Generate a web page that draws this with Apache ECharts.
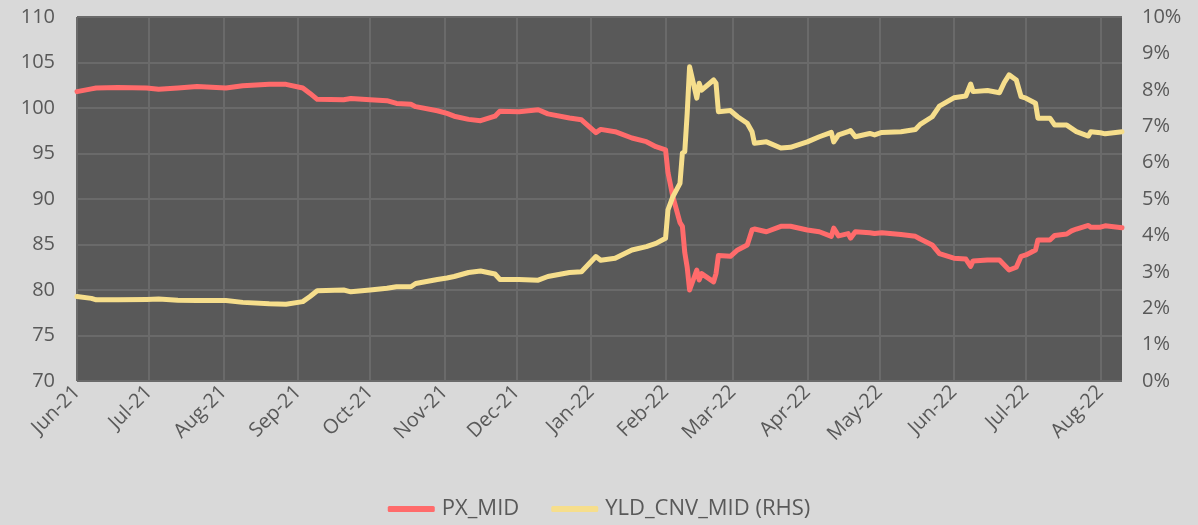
<!DOCTYPE html>
<html>
<head>
<meta charset="utf-8">
<title>PX_MID vs YLD_CNV_MID</title>
<script src="https://cdn.jsdelivr.net/npm/echarts@6/dist/echarts.min.js"></script>
<style>
  html, body { margin: 0; padding: 0; background: #d9d9d9; }
  #chart { width: 1198px; height: 525px; }
</style>
</head>
<body>
<div id="chart"></div>
<script>
// dates of the points
var dates = [
  '2021-06-01', '2021-06-07', '2021-06-09', '2021-06-18', '2021-06-30', '2021-07-05', '2021-07-13', '2021-07-21',
  '2021-08-02', '2021-08-09', '2021-08-20', '2021-08-27', '2021-09-03', '2021-09-06', '2021-09-09', '2021-09-20',
  '2021-09-23', '2021-10-01', '2021-10-08', '2021-10-12', '2021-10-18', '2021-10-20', '2021-10-29', '2021-11-02',
  '2021-11-05', '2021-11-11', '2021-11-16', '2021-11-22', '2021-11-24', '2021-12-02', '2021-12-10', '2021-12-14',
  '2021-12-23', '2021-12-28', '2022-01-03', '2022-01-05', '2022-01-11', '2022-01-18', '2022-01-24', '2022-01-28',
  '2022-02-01', '2022-02-02', '2022-02-04', '2022-02-07', '2022-02-08', '2022-02-09', '2022-02-10', '2022-02-11',
  '2022-02-14', '2022-02-15', '2022-02-16', '2022-02-21', '2022-02-22', '2022-02-23', '2022-02-28', '2022-03-03',
  '2022-03-07', '2022-03-09', '2022-03-10', '2022-03-15', '2022-03-21', '2022-03-25', '2022-04-01', '2022-04-06',
  '2022-04-11', '2022-04-12', '2022-04-14', '2022-04-18', '2022-04-19', '2022-04-21', '2022-04-27', '2022-04-29',
  '2022-05-02', '2022-05-10', '2022-05-16', '2022-05-18', '2022-05-23', '2022-05-26', '2022-06-01', '2022-06-06',
  '2022-06-08', '2022-06-09', '2022-06-15', '2022-06-20', '2022-06-22', '2022-06-24', '2022-06-27', '2022-06-29',
  '2022-07-01', '2022-07-05', '2022-07-06', '2022-07-11', '2022-07-13', '2022-07-18', '2022-07-20', '2022-07-22',
  '2022-07-27', '2022-07-28', '2022-08-01', '2022-08-03', '2022-08-10'
];

// PX_MID (left axis)
var pxMid = [
  101.8, 102.1, 102.2, 102.25, 102.2, 102.05, 102.2, 102.35,
  102.2, 102.45, 102.6, 102.6, 102.2, 101.6, 100.95, 100.9,
  101.05, 100.9, 100.8, 100.5, 100.4, 100.15, 99.7, 99.4,
  99.1, 98.75, 98.6, 99.1, 99.65, 99.6, 99.8, 99.35,
  98.9, 98.7, 97.3, 97.65, 97.4, 96.7, 96.3, 95.75,
  95.4, 92.9, 90.3, 87.4, 87.0, 84.1, 82.5, 80.0,
  82.2, 81.1, 81.8, 80.9, 81.8, 83.8, 83.7, 84.4,
  84.95, 86.6, 86.7, 86.4, 87.0, 87.0, 86.6, 86.4,
  85.9, 86.8, 85.95, 86.2, 85.7, 86.4, 86.3, 86.2,
  86.3, 86.1, 85.9, 85.6, 84.95, 84.0, 83.5, 83.4,
  82.6, 83.2, 83.3, 83.3, 82.75, 82.2, 82.5, 83.7,
  83.85, 84.4, 85.5, 85.5, 86.0, 86.15, 86.5, 86.7,
  87.1, 86.9, 86.9, 87.05, 86.85
];

// YLD_CNV_MID in % (right axis)
var yldCnvMid = [
  2.32, 2.27, 2.23, 2.23, 2.24, 2.25, 2.22, 2.21,
  2.21, 2.16, 2.12, 2.11, 2.18, 2.32, 2.48, 2.50,
  2.45, 2.50, 2.55, 2.59, 2.59, 2.68, 2.79, 2.83,
  2.87, 2.98, 3.02, 2.94, 2.79, 2.79, 2.77, 2.87,
  2.98, 3.0, 3.42, 3.32, 3.37, 3.60, 3.69, 3.78,
  3.92, 4.70, 5.06, 5.43, 6.26, 6.30, 7.35, 8.63,
  7.77, 8.18, 7.99, 8.27, 8.18, 7.40, 7.43, 7.26,
  7.08, 6.85, 6.53, 6.57, 6.40, 6.42, 6.57, 6.71,
  6.83, 6.57, 6.76, 6.85, 6.88, 6.71, 6.80, 6.76,
  6.83, 6.85, 6.91, 7.05, 7.26, 7.55, 7.78, 7.83,
  8.16, 7.95, 7.98, 7.92, 8.20, 8.41, 8.27, 7.81,
  7.77, 7.63, 7.22, 7.22, 7.03, 7.03, 6.94, 6.85,
  6.73, 6.85, 6.82, 6.79, 6.85
];

var monthNames = ['Jan', 'Feb', 'Mar', 'Apr', 'May', 'Jun', 'Jul', 'Aug', 'Sep', 'Oct', 'Nov', 'Dec'];
var textColor = '#595959';
var gridColor = '#6a6a6a';
var font = 'Open Sans';
var DAY = 24 * 3600 * 1000;

function pairs(values) {
  return dates.map(function (d, i) { return [d, values[i]]; });
}

var chart = echarts.init(document.getElementById('chart'));

var option = {
  backgroundColor: '#d9d9d9',
  animation: false,
  textStyle: { fontFamily: font },
  grid: {
    left: 77,
    right: 76,
    top: 17,
    bottom: 144,
    show: true,
    backgroundColor: '#595959',
    borderWidth: 0
  },
  legend: {
    bottom: 0,
    left: 'center',
    icon: 'roundRect',
    itemWidth: 47,
    itemHeight: 6,
    itemGap: 32,
    textStyle: { color: textColor, fontSize: 22, fontFamily: font, padding: [0, 0, 0, 2] },
    data: ['PX_MID', 'YLD_CNV_MID (RHS)']
  },
  xAxis: {
    type: 'time',
    min: '2021-06-01',
    max: '2022-08-10',
    minInterval: 28 * DAY,
    maxInterval: 31 * DAY,
    axisLine: { show: false },
    axisTick: { show: false },
    splitLine: { show: true, showMaxLine: false, lineStyle: { color: gridColor, width: 2 } },
    axisLabel: {
      rotate: 45,
      margin: 8,
      color: textColor,
      fontSize: 20,
      fontFamily: font,
      hideOverlap: false,
      formatter: function (val) {
        var d = new Date(val);
        if (d.getDate() !== 1) return '';
        return monthNames[d.getMonth()] + '-' + String(d.getFullYear()).slice(2);
      }
    }
  },
  yAxis: [
    {
      type: 'value',
      min: 70,
      max: 110,
      interval: 5,
      axisLine: { show: false },
      axisTick: { show: false },
      splitLine: { show: true, lineStyle: { color: gridColor, width: 2 } },
      axisLabel: { color: textColor, fontSize: 20, fontFamily: font, margin: 22 }
    },
    {
      type: 'value',
      min: 0,
      max: 10,
      interval: 1,
      axisLine: { show: false },
      axisTick: { show: false },
      splitLine: { show: false },
      axisLabel: { color: textColor, fontSize: 20, fontFamily: font, margin: 20, formatter: '{value}%' }
    }
  ],
  series: [
    {
      name: 'PX_MID',
      type: 'line',
      yAxisIndex: 0,
      showSymbol: false,
      color: '#ff6b6b',
      lineStyle: { width: 5, color: '#ff6b6b', cap: 'round', join: 'round' },
      data: pairs(pxMid)
    },
    {
      name: 'YLD_CNV_MID (RHS)',
      type: 'line',
      yAxisIndex: 1,
      showSymbol: false,
      color: '#f6de8c',
      lineStyle: { width: 5, color: '#f6de8c', cap: 'round', join: 'round' },
      data: pairs(yldCnvMid)
    }
  ]
};

chart.setOption(option);
</script>
</body>
</html>
